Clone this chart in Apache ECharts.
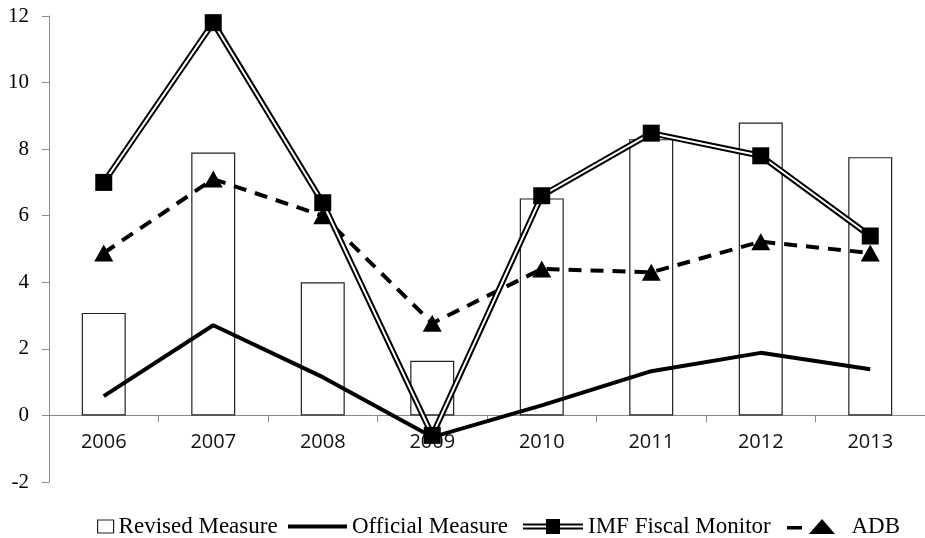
<!DOCTYPE html>
<html>
<head>
<meta charset="utf-8">
<script src="https://cdn.jsdelivr.net/npm/echarts@6/dist/echarts.min.js"></script>
<style>html,body{margin:0;padding:0;background:#fff}#c{width:925px;height:538px}</style>
</head>
<body>
<div id="c"></div>
<script>
var years = ['2006','2007','2008','2009','2010','2011','2012','2013'];
var revised = [3.08, 7.9, 4.0, 1.64, 6.52, 8.3, 8.8, 7.76];
var official = [0.58, 2.71, 1.15, -0.65, 0.3, 1.33, 1.88, 1.39];
var imf = [7.0, 11.8, 6.39, -0.6, 6.6, 8.48, 7.8, 5.39];
var adb = [4.88, 7.1, 6.0, 2.77, 4.4, 4.3, 5.22, 4.88];
var yTicks = [-2, 0, 2, 4, 6, 8, 10, 12];

var gridTop = 16, gridBottom = 56, H = 538;
var yMin = yTicks[0], yMax = yTicks[yTicks.length - 1];
var plotH = H - gridTop - gridBottom;
var zeroOffset = -plotH * (0 - yMin) / (yMax - yMin);

var chart = echarts.init(document.getElementById('c'));
var legendFont = {fontFamily: '"Liberation Serif", "Times New Roman", serif', fontSize: 23, color: '#000'};
function lg(left, name, icon, w, h, style, fmt) {
  var o = {
    left: left, top: 515, padding: 0, itemGap: 0, itemWidth: w, itemHeight: h,
    textStyle: legendFont, selectedMode: false,
    data: [{name: name, icon: icon, itemStyle: style, lineStyle: {width: 0, opacity: 0}}]
  };
  if (fmt) o.formatter = fmt;
  return o;
}
chart.setOption({
  animation: false,
  backgroundColor: '#fff',
  grid: {left: 49, right: -3, top: gridTop, bottom: gridBottom, containLabel: false},
  legend: [
    lg(97, 'Revised Measure', 'rect', 16, 13, {color: '#fff', borderColor: '#222', borderWidth: 1.2}),
    lg(288, 'Official Measure', 'path://M0,0H60V4H0Z', 59, 4, {color: '#000', borderWidth: 0}),
    lg(523, 'IMF Fiscal Monitor', 'path://M0,4.5H60V6.5H0Z M0,8.5H60V10.5H0Z M23,0H37V15H23Z', 60, 15, {color: '#000', borderWidth: 0}),
    lg(787, 'ADB', 'path://M0,7H15V10.5H0Z M35,0L48,15H22Z', 48, 15, {color: '#000', borderWidth: 0}, function (n) { return '  ' + n; })
  ],
  xAxis: {
    type: 'category', data: years, offset: zeroOffset,
    axisLine: {onZero: false, lineStyle: {color: '#8a8a8a', width: 1}},
    axisTick: {show: true, length: 7, alignWithLabel: false, lineStyle: {color: '#8a8a8a'}},
    axisLabel: {margin: 17, color: '#111', fontSize: 20, fontFamily: '"Open Sans", sans-serif'},
    splitLine: {show: false}
  },
  yAxis: {
    type: 'value', min: yMin, max: yMax, interval: 2,
    axisLine: {show: true, lineStyle: {color: '#8a8a8a', width: 1}},
    axisTick: {show: true, length: 7, lineStyle: {color: '#8a8a8a'}},
    axisLabel: {margin: 20, color: '#000', fontSize: 21, fontFamily: '"Liberation Serif", "Times New Roman", serif'},
    splitLine: {show: false}
  },
  series: [
    {name: 'Revised Measure', type: 'bar', data: revised, barWidth: 44, z: 1,
     itemStyle: {color: '#fff', borderColor: '#222', borderWidth: 1.2}},
    {name: 'Official Measure', type: 'line', data: official, showSymbol: false, symbol: 'none', z: 3,
     lineStyle: {color: '#000', width: 4}, itemStyle: {color: '#000'}},
    {name: 'ADB', type: 'line', data: adb, z: 4, symbol: 'triangle', symbolSize: [19, 17],
     lineStyle: {color: '#000', width: 4, type: [13, 9]}, itemStyle: {color: '#000'}},
    {name: 'IMF Fiscal Monitor', type: 'line', data: imf, symbol: 'none', z: 5,
     lineStyle: {color: '#000', width: 6}, itemStyle: {color: '#000'}},
    {name: 'IMF inner', type: 'line', data: imf, symbol: 'none', z: 6,
     lineStyle: {color: '#fff', width: 2}, itemStyle: {color: '#fff'}},
    {name: 'IMF markers', type: 'line', data: imf, symbol: 'rect', symbolSize: 17, z: 7,
     lineStyle: {width: 0, opacity: 0}, itemStyle: {color: '#000'}}
  ]
});
</script>
</body>
</html>
